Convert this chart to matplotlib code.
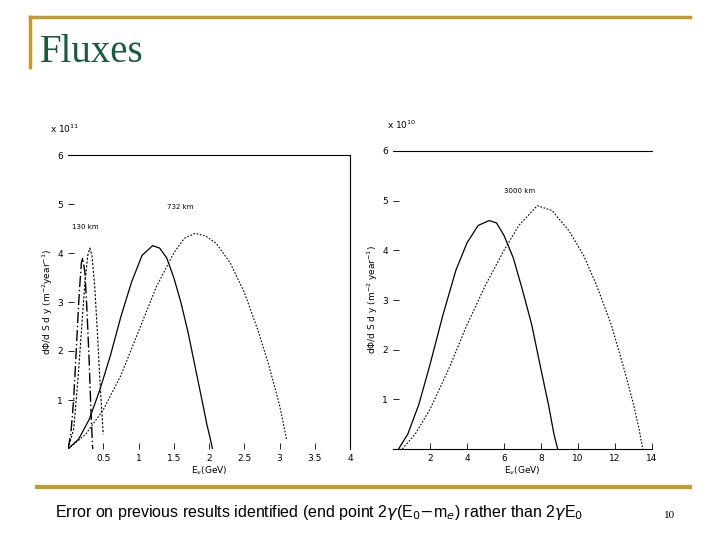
import matplotlib
matplotlib.use("Agg")
import matplotlib.pyplot as plt
from matplotlib.lines import Line2D

# data
la_x = [0, 0.04, 0.08, 0.12, 0.16, 0.19, 0.21, 0.24, 0.27, 0.3, 0.32, 0.34, 0.35]
la_y = [0, 0.3, 1.0, 2.1, 3.2, 3.8, 3.9, 3.6, 2.8, 1.8, 1.0, 0.3, 0]
lb_x = [0, 0.08, 0.14, 0.2, 0.24, 0.28, 0.31, 0.34, 0.38, 0.42, 0.46, 0.5]
lb_y = [0, 0.4, 1.4, 2.6, 3.4, 3.95, 4.1, 3.95, 3.3, 2.3, 1.2, 0.3]
lc_x = [0, 0.15, 0.3, 0.45, 0.6, 0.75, 0.9, 1.05, 1.2, 1.3, 1.4, 1.5, 1.6, 1.7, 1.8, 1.9, 1.97, 2.02, 2.05]
lc_y = [0, 0.2, 0.6, 1.2, 1.9, 2.7, 3.4, 3.95, 4.15, 4.1, 3.9, 3.5, 3.0, 2.4, 1.7, 1.0, 0.5, 0.2, 0]
ld_x = [0, 0.25, 0.5, 0.75, 1.0, 1.25, 1.5, 1.65, 1.8, 1.95, 2.1, 2.3, 2.5, 2.7, 2.85, 3.0, 3.1]
ld_y = [0, 0.3, 0.8, 1.5, 2.4, 3.3, 4.0, 4.3, 4.4, 4.35, 4.2, 3.8, 3.2, 2.4, 1.7, 0.9, 0.2]
re_x = [0.3, 0.8, 1.4, 2.0, 2.7, 3.4, 4.0, 4.6, 5.2, 5.6, 6.0, 6.5, 7.0, 7.5, 8.0, 8.4, 8.7, 8.9]
re_y = [0, 0.3, 0.9, 1.7, 2.7, 3.6, 4.15, 4.5, 4.6, 4.55, 4.3, 3.85, 3.2, 2.5, 1.6, 0.9, 0.3, 0]
rf_x = [0.5, 1.2, 2.0, 3.0, 4.0, 5.0, 6.0, 6.8, 7.8, 8.6, 9.5, 10.3, 11.0, 11.8, 12.5, 13.0, 13.3, 13.5]
rf_y = [0, 0.3, 0.8, 1.6, 2.5, 3.3, 4.0, 4.5, 4.9, 4.8, 4.4, 3.9, 3.3, 2.5, 1.6, 0.9, 0.4, 0]
left_xticks = [0.5, 1, 1.5, 2, 2.5, 3, 3.5, 4]
left_xlabels = ["0.5", "1", "1.5", "2", "2.5", "3", "3.5", "4"]
right_xticks = [2, 4, 6, 8, 10, 12, 14]
yticks = [1, 2, 3, 4, 5, 6]

W, H = 720, 540
fig = plt.figure(figsize=(7.2, 5.4), dpi=100)
def box(x0, y0, x1, y1):
    return [x0 / W, 1 - y1 / H, (x1 - x0) / W, (y1 - y0) / H]

gold = "#c49a2a"
fig.add_artist(Line2D([30/W, 690/W], [1-17/H, 1-17/H], color=gold, lw=2.5))
fig.add_artist(Line2D([30/W, 30/W], [1-17/H, 1-67/H], color=gold, lw=2.5))
fig.add_artist(Line2D([37/W, 690/W], [1-487/H, 1-487/H], color=gold, lw=3))
fig.text(40/W, 1-53/H, "Fluxes", family="Liberation Serif", fontsize=28,
         color="#1a5c3a", va="center")
fig.text(55/W, 1-513/H,
         r"Error on previous results identified (end point 2$\gamma$(E$_0$$-$m$_e$) rather than 2$\gamma$E$_0$",
         family="Liberation Sans", fontsize=11.5, va="center")
fig.text(664/W, 1-516/H, "10", family="Liberation Serif", fontsize=8, va="center")

fs = 6.5
# left
ax1 = fig.add_axes(box(68, 155, 350, 449))
ax1.plot(la_x, la_y, color="k", lw=1, ls=(0, (8, 2, 1, 2)))
ax1.plot(lb_x, lb_y, color="k", lw=0.8, ls=(0, (2, 1.5)))
ax1.plot(lc_x, lc_y, color="k", lw=0.9)
ax1.plot(ld_x, ld_y, color="k", lw=0.8, ls=(0, (1.5, 1.5)))
ax1.set_xlim(0, 4); ax1.set_ylim(0, 6)
ax1.set_xticks(left_xticks, left_xlabels)
ax1.set_yticks(yticks)
for s in ["left", "bottom"]:
    ax1.spines[s].set_visible(False)
ax1.tick_params(direction="in", length=4, labelsize=fs, width=0.6)
ax1.text(0.05, 4.5, "130 km", fontsize=5)
ax1.text(1.4, 4.9, "732 km", fontsize=5)
ax1.text(-0.25, 6.45, r"x 10$^{11}$", fontsize=fs)
ax1.set_xlabel(r"E$_\nu$(GeV)", fontsize=fs, labelpad=1)
ax1.set_ylabel(r"d$\Phi$/d S d y (m$^{-2}$year$^{-1}$)", fontsize=fs, labelpad=2)

# right
ax2 = fig.add_axes(box(393, 151, 652, 449))
ax2.plot(re_x, re_y, color="k", lw=0.9)
ax2.plot(rf_x, rf_y, color="k", lw=0.8, ls=(0, (1.5, 1.5)))
ax2.set_xlim(0, 14); ax2.set_ylim(0, 6)
ax2.set_xticks(right_xticks)
ax2.set_yticks(yticks)
for s in ["left", "right"]:
    ax2.spines[s].set_visible(False)
ax2.tick_params(direction="in", length=4, labelsize=fs, width=0.6)
ax2.text(6.0, 5.15, "3000 km", fontsize=5)
ax2.text(-0.3, 6.45, r"x 10$^{10}$", fontsize=fs)
ax2.set_xlabel(r"E$_\nu$(GeV)", fontsize=fs, labelpad=1)
ax2.set_ylabel(r"d$\Phi$/d S d y (m$^{-2}$ year$^{-1}$)", fontsize=fs, labelpad=2)

fig.savefig("out.png", dpi=100)
